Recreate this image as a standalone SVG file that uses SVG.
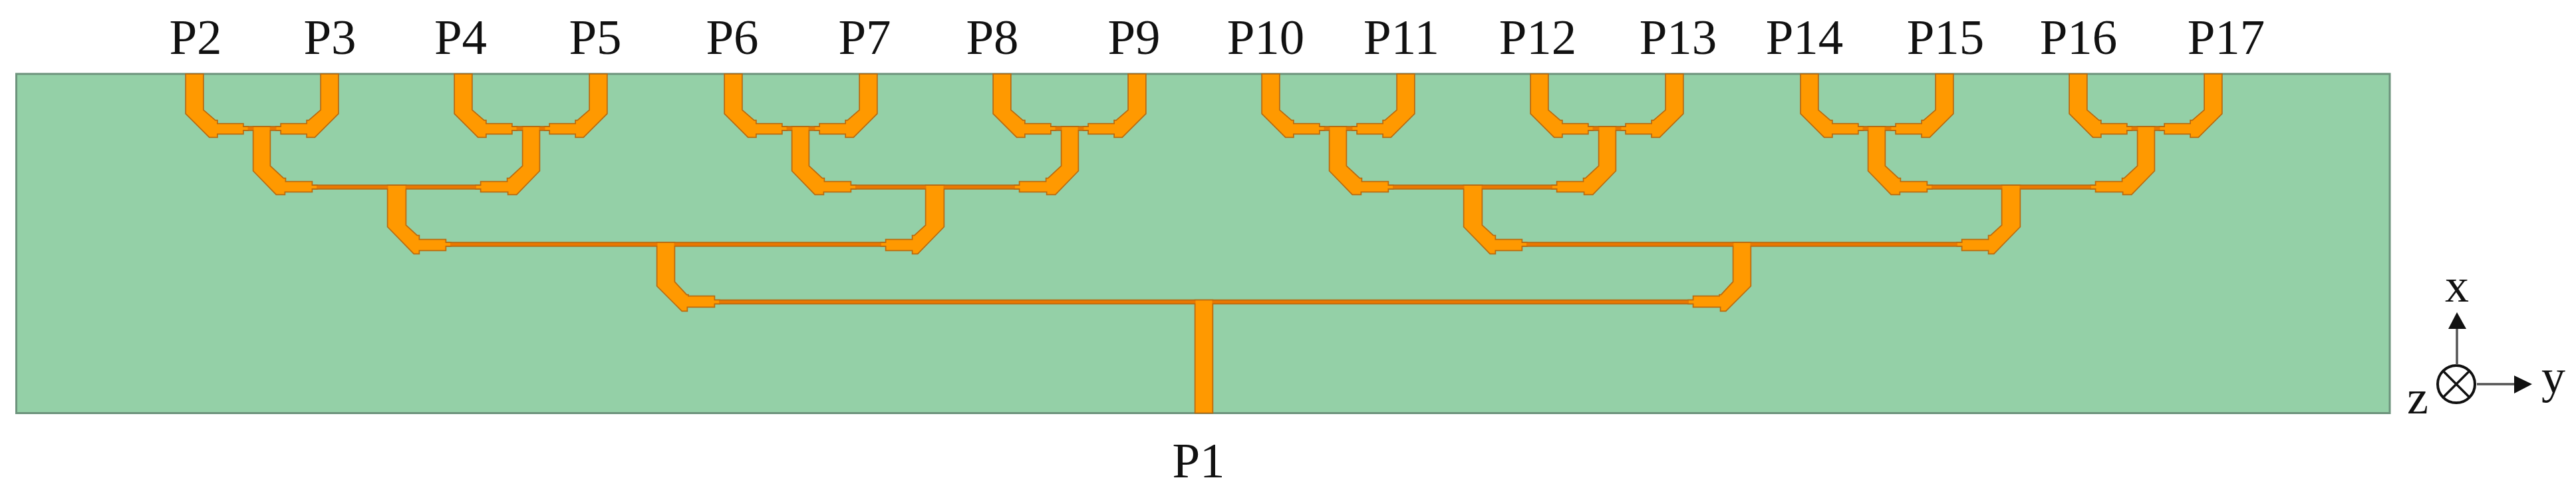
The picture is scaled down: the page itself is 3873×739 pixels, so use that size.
<svg xmlns="http://www.w3.org/2000/svg" width="3873" height="739" viewBox="0 0 3873 739">
<style>
text{font-family:"Liberation Serif","Times New Roman",serif;fill:#111;text-anchor:middle}
.p{font-size:75px}
.a{font-size:72px}
.ax{stroke:#555;stroke-width:3.5;fill:none}
</style>
<defs>
<path id="e1" d="M-12.5,112V170.6L22.6,205.5H33.5V200.5H72.5V195H80V191H72.5V186.5H33.5V181.5H31L12.5,165.5V112Z"/>
<path id="e2" d="M-12.5,191V256.4L21.6,291.5H33.5V287.5H74.5V283H82V279H74.5V273.5H34.5V268.5H32L11.5,249.5V191Z"/>
<path id="e3" d="M-12.5,279V340.4L26.6,380.5H33.5V375.5H73.5V369H81V365H73.5V360.5H33.5V354.5H31L13.5,338.5V279Z"/>
<path id="e4" d="M-12.5,365V429.4L24.6,466.5H31.5V460.5H72.5V455.5H80V451.5H72.5V445.5H33V443.5H31L12.5,423.5V365Z"/>
<g id="thin">
<rect x="354" y="191" width="80" height="4"/><rect x="758" y="191" width="80" height="4"/>
<rect x="1164" y="191" width="80" height="4"/><rect x="1568" y="191" width="80" height="4"/>
<rect x="1972" y="191" width="80" height="4"/><rect x="2376" y="191" width="80" height="4"/>
<rect x="2782" y="191" width="80" height="4"/><rect x="3186" y="191" width="80" height="4"/>
<rect x="436" y="279" width="320" height="4"/><rect x="1246" y="279" width="320" height="4"/>
<rect x="2054" y="279" width="320" height="4"/><rect x="2864" y="279" width="320" height="4"/>
<rect x="640" y="365" width="722" height="4"/><rect x="2258" y="365" width="722" height="4"/>
<rect x="1041" y="451.5" width="1538" height="4"/>
</g>
<g id="elbows">
<use href="#e1" x="292.5"/><use href="#e1" transform="translate(495.5)scale(-1,1)"/>
<use href="#e1" x="696.5"/><use href="#e1" transform="translate(899.5)scale(-1,1)"/>
<use href="#e1" x="1102.5"/><use href="#e1" transform="translate(1305.5)scale(-1,1)"/>
<use href="#e1" x="1506.5"/><use href="#e1" transform="translate(1709.5)scale(-1,1)"/>
<use href="#e1" x="1910.5"/><use href="#e1" transform="translate(2113.5)scale(-1,1)"/>
<use href="#e1" x="2314.5"/><use href="#e1" transform="translate(2517.5)scale(-1,1)"/>
<use href="#e1" x="2720.5"/><use href="#e1" transform="translate(2923.5)scale(-1,1)"/>
<use href="#e1" x="3124.5"/><use href="#e1" transform="translate(3327.5)scale(-1,1)"/>
<use href="#e2" x="394"/><use href="#e2" transform="translate(798)scale(-1,1)"/>
<use href="#e2" x="1204"/><use href="#e2" transform="translate(1608)scale(-1,1)"/>
<use href="#e2" x="2012"/><use href="#e2" transform="translate(2416)scale(-1,1)"/>
<use href="#e2" x="2822"/><use href="#e2" transform="translate(3226)scale(-1,1)"/>
<use href="#e3" x="596"/><use href="#e3" transform="translate(1406)scale(-1,1)"/>
<use href="#e3" x="2214"/><use href="#e3" transform="translate(3024)scale(-1,1)"/>
<use href="#e4" x="1001"/><use href="#e4" transform="translate(2619)scale(-1,1)"/>
<rect x="1797.5" y="451.5" width="25" height="168"/>
</g>
</defs>
<g id="board"><rect x="24.5" y="111" width="3568.5" height="509.5" fill="#94d0a7" stroke="#6d937c" stroke-width="3"/></g>
<g id="microstrip">
<g fill="#b96a10" stroke="#b96a10" stroke-width="3.5"><use href="#thin"/><use href="#elbows"/></g>
<use href="#thin" fill="#ea7800"/>
<use href="#elbows" fill="#ff9900"/>
</g>
<g id="labels">
<text class="p" x="294" y="81">P2</text>
<text class="p" x="496" y="81">P3</text>
<text class="p" x="692.500" y="81">P4</text>
<text class="p" x="895" y="81">P5</text>
<text class="p" x="1101" y="81">P6</text>
<text class="p" x="1300" y="81">P7</text>
<text class="p" x="1492" y="81">P8</text>
<text class="p" x="1705" y="81">P9</text>
<text class="p" x="1903" y="81">P10</text>
<text class="p" x="2107" y="81">P11</text>
<text class="p" x="2312" y="81">P12</text>
<text class="p" x="2523" y="81">P13</text>
<text class="p" x="2713" y="81">P14</text>
<text class="p" x="2925" y="81">P15</text>
<text class="p" x="3125" y="81">P16</text>
<text class="p" x="3347" y="81">P17</text>
<text class="p" x="1802" y="717">P1</text>
</g>
<g id="axes">
<circle cx="3693" cy="577" r="28" fill="#fff" stroke="#111" stroke-width="4"/>
<path d="M3673,557L3713,597M3713,557L3673,597" stroke="#111" stroke-width="3.5" fill="none"/>
<path class="ax" d="M3694,548V490M3724,577H3782"/>
<path d="M3694,469L3708,494H3681Z" fill="#111"/>
<path d="M3807,577L3780,564V591Z" fill="#111"/>
<text class="a" x="3694" y="453">x</text>
<text class="a" x="3839" y="590">y</text>
<text class="a" x="3635" y="621">z</text>
</g>
</svg>
